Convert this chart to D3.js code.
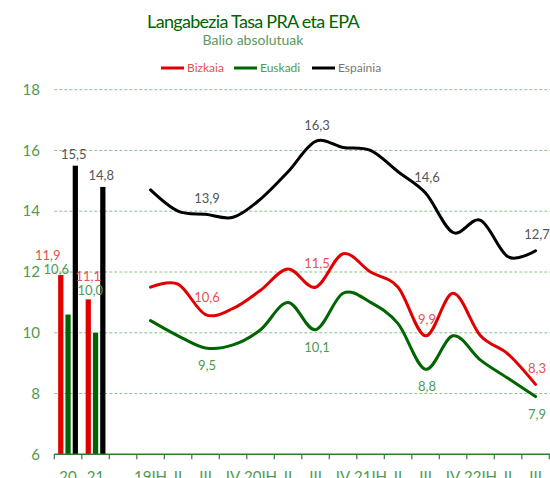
<!DOCTYPE html>
<html>
<head>
<meta charset="utf-8">
<script src="https://cdn.jsdelivr.net/npm/d3@7"></script>
<style>
  html, body { margin: 0; padding: 0; background: #fff; }
  svg { display: block; font-family: Lato, "Open Sans", sans-serif; }
</style>
</head>
<body>
<svg id="chart" width="550" height="478"></svg>
<script>
// Unemployment rate, annual averages (bars) and quarterly values (lines)
const categories = ["20", "21", "", "19IH", "II", "III", "IV", "20IH", "II", "III", "IV", "21IH", "II", "III", "IV", "22IH", "II", "III"];
const annualYears = ["20", "21"];
const annualBizkaia = [11.9, 11.1];
const annualEuskadi = [10.6, 10.0];
const annualEspainia = [15.5, 14.8];

const quarters = ["19IH", "II", "III", "IV", "20IH", "II", "III", "IV", "21IH", "II", "III", "IV", "22IH", "II", "III"];
const bizkaia = [11.5, 11.6, 10.6, 10.8, 11.4, 12.1, 11.5, 12.6, 12.0, 11.5, 9.9, 11.3, 9.9, 9.3, 8.3];
const euskadi = [10.4, 9.9, 9.5, 9.6, 10.1, 11.0, 10.1, 11.3, 11.0, 10.3, 8.8, 9.9, 9.1, 8.5, 7.9];
const espainia = [14.7, 14.0, 13.9, 13.8, 14.4, 15.3, 16.3, 16.1, 16.0, 15.3, 14.6, 13.3, 13.7, 12.5, 12.7];
// quarters whose value is printed on the chart
const labelledQuarters = [2, 6, 10, 14];

const yTicks = [6, 8, 10, 12, 14, 16, 18];
const seriesNames = ["Bizkaia", "Euskadi", "Espainia"];

const colors = { Bizkaia: "#e00000", Euskadi: "#006400", Espainia: "#000000" };
const textColors = { Bizkaia: "#e85050", Euskadi: "#4f9a4f", Espainia: "#555555" };

const svg = d3.select("#chart");
const plotLeft = 54.3, plotRight = 549.3, plotTop = 89.7, plotBottom = 454.3;

const x = d3.scaleBand().domain(d3.range(categories.length)).range([plotLeft, plotRight]).padding(0);
const y = d3.scaleLinear().domain([6, 18]).range([plotBottom, plotTop]);

// Title block
svg.append("text").attr("x", 253).attr("y", 28).attr("text-anchor", "middle")
  .attr("font-size", 18).attr("letter-spacing", -0.7).attr("fill", "#006400").text("Langabezia Tasa PRA eta EPA");
svg.append("text").attr("x", 253).attr("y", 45).attr("text-anchor", "middle")
  .attr("font-size", 14).attr("fill", "#5a9a5a").text("Balio absolutuak");

// Legend
const legendX = [161, 234, 312];
seriesNames.forEach((name, i) => {
  const g = svg.append("g").attr("transform", `translate(${legendX[i]},68)`);
  g.append("line").attr("x1", 0).attr("x2", 23).attr("y1", 0).attr("y2", 0)
    .attr("stroke", colors[name]).attr("stroke-width", 3);
  g.append("text").attr("x", 26).attr("y", 4).attr("font-size", 12)
    .attr("fill", name === "Espainia" ? "#777" : textColors[name]).text(name);
});

// Gridlines and y tick labels
svg.append("g").selectAll("line").data(yTicks.filter(t => t > 6)).join("line")
  .attr("x1", plotLeft).attr("x2", 550).attr("y1", d => y(d)).attr("y2", d => y(d))
  .attr("stroke", "#8cc08c").attr("stroke-width", 1).attr("stroke-dasharray", "3,2");
svg.append("g").selectAll("text").data(yTicks).join("text")
  .attr("x", 40).attr("y", d => y(d)).attr("dy", "0.35em").attr("text-anchor", "end")
  .attr("font-size", 15).attr("fill", "#4f9a4f").text(d => d);

// Annual bars
const group = d3.scaleBand().domain(seriesNames).range([0, 19.8]).paddingInner(0.28);
const barData = annualYears.flatMap((yr, i) => [
  { cat: i, name: "Bizkaia", v: annualBizkaia[i] },
  { cat: i, name: "Euskadi", v: annualEuskadi[i] },
  { cat: i, name: "Espainia", v: annualEspainia[i] }
]);
const groupOffset = (x.bandwidth() - 19.8) / 2;
svg.append("g").selectAll("rect").data(barData).join("rect")
  .attr("x", d => x(d.cat) + groupOffset + group(d.name))
  .attr("width", group.bandwidth())
  .attr("y", d => y(d.v))
  .attr("height", d => y(6) - y(d.v))
  .attr("fill", d => colors[d.name]);

// Bar value labels (red and green stacked above the cluster)
const fmt = v => d3.format(".1f")(v).replace(".", ",");
const redLabelShift = [-13, 0];
const greenLabelShift = [-4.5, 2];
annualYears.forEach((yr, i) => {
  const cx = x(i) + groupOffset;
  const redCenter = cx + group("Bizkaia") + group.bandwidth() / 2;
  svg.append("text").attr("x", cx + group("Espainia") + group.bandwidth() / 2 - 1.5)
    .attr("y", y(annualEspainia[i]) - 11).attr("dy", "0.35em").attr("text-anchor", "middle")
    .attr("font-size", 13).attr("fill", textColors.Espainia).text(fmt(annualEspainia[i]));
  const ry = y(annualBizkaia[i]) - 20 - i * 3;
  svg.append("text").attr("x", redCenter + redLabelShift[i])
    .attr("y", ry).attr("dy", "0.35em").attr("text-anchor", "middle")
    .attr("font-size", 13).attr("fill", textColors.Bizkaia).text(fmt(annualBizkaia[i]));
  svg.append("text").attr("x", redCenter + greenLabelShift[i])
    .attr("y", ry + 14).attr("dy", "0.35em").attr("text-anchor", "middle")
    .attr("font-size", 13).attr("fill", textColors.Euskadi).text(fmt(annualEuskadi[i]));
});

// Quarterly lines
const qIndex = i => i + 3;
const line = d3.line()
  .x((d, i) => x(qIndex(i)) + x.bandwidth() / 2)
  .y(d => y(d))
  .curve(d3.curveCardinal.tension(0));
const lineSeries = [
  { name: "Espainia", values: espainia, dy: [-16, -16, -16, -16] },
  { name: "Bizkaia", values: bizkaia, dy: [-17, -24, -16, -16] },
  { name: "Euskadi", values: euskadi, dy: [17, 18, 17, 18] }
];
lineSeries.forEach(s => {
  svg.append("path").datum(s.values).attr("d", line)
    .attr("fill", "none").attr("stroke", colors[s.name]).attr("stroke-width", 3)
    .attr("stroke-linejoin", "round").attr("stroke-linecap", "round");
  svg.append("g").selectAll("text").data(labelledQuarters).join("text")
    .attr("x", i => x(qIndex(i)) + x.bandwidth() / 2 + 1.5)
    .attr("y", (i, k) => y(s.values[i]) + s.dy[k]).attr("dy", "0.35em").attr("text-anchor", "middle")
    .attr("font-size", 13).attr("fill", textColors[s.name]).text(i => fmt(s.values[i]));
});

// X axis
const xAxis = svg.append("g").attr("transform", `translate(0,${plotBottom})`);
xAxis.append("line").attr("x1", plotLeft).attr("x2", 550).attr("y1", 0).attr("y2", 0)
  .attr("stroke", "#2e7d32").attr("stroke-width", 1.5);
xAxis.selectAll("line.tick").data(d3.range(categories.length + 1)).join("line").attr("class", "tick")
  .attr("x1", i => i < categories.length ? x(i) : plotRight).attr("x2", i => i < categories.length ? x(i) : plotRight)
  .attr("y1", 0).attr("y2", 5).attr("stroke", "#2e7d32").attr("stroke-width", 1.2);
xAxis.selectAll("text").data(categories).join("text")
  .attr("x", (d, i) => x(i) + x.bandwidth() / 2).attr("y", 28)
  .attr("text-anchor", "middle").attr("font-size", 15).attr("fill", "#4f9a4f").text(d => d);
</script>
</body>
</html>
